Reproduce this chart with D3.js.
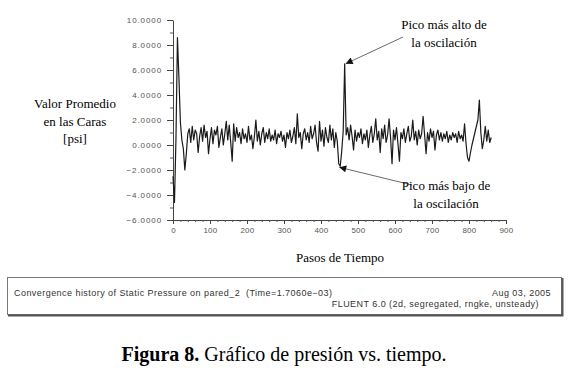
<!DOCTYPE html>
<html lang="es">
<head>
<meta charset="UTF-8">
<title>Gráfico de presión vs. tiempo</title>
<script src="https://cdn.jsdelivr.net/npm/d3@7"></script>
<style>
    body{
        margin: 0;
        background: #fff;
    }
    .tick text{
        font-family: "Liberation Sans", Arial, sans-serif;
        fill: #555;
    }
</style>
</head>
<body>
<svg id="main" width="568" height="375"></svg>
<script>

    const SERIF = '"Liberation Serif", "Times New Roman", "DejaVu Serif", serif';
    const SANS = '"Liberation Sans", Arial, sans-serif';

    // time step between two stored samples
    const stepSize = 4;

    // face averaged static pressure [psi], one value every 4 time steps (0 .. 860)
    const pressure = [
        -2.5, -4.6, 0.5, 8.6, 5.4, 1.8, 0.4, -0.3, -2.0, -0.7,
        0.9, 1.3, 0.2, 1.5, 0.4, 1.2, 0.9, -0.6, 0.7, 1.4,
        0.3, 1.6, 0.6, 1.1, -0.7, 0.5, 1.4, 0.1, 1.2, 0.8,
        1.5, -0.2, 0.6, 1.3, 0.0, 0.9, 1.9, 0.4, 1.6, 0.2,
        -1.3, 1.7, 0.3, 1.4, 0.6, 1.0, 0.1, 1.3, 0.5, 0.9,
        0.2, 1.5, 0.4, 0.8, -0.3, 0.7, 2.0, 0.3, 1.1, 0.0,
        0.9, 1.4, 0.2, 1.0, 0.5, 1.3, 0.3, 0.8, 0.4, 1.2,
        0.1, 0.9, 0.6, 1.1, 0.3, 0.8, -0.2, 1.0, 0.5, 1.2,
        0.2, 0.7, 1.4, 0.1, 2.5, 0.6, 1.0, -0.3, 0.9, 1.3,
        0.4, 1.0, 0.2, 1.5, 0.5, 0.9, 1.6, 0.2, -0.5, 1.9,
        0.3, 1.2, -0.1, 1.4, 0.6, 0.2, 1.6, 0.4, 1.3, -0.2,
        1.0, 0.3, -1.5, -1.7, -0.5, 1.1, 6.5, 0.8, 1.4, 0.4,
        1.6, 0.7, -0.4, 1.2, 0.3, 1.0, 0.6, 1.3, 0.1, 0.9,
        0.4, 1.2, -0.2, 0.8, 1.5, 0.2, 0.9, 2.1, 0.4, 1.1,
        -0.6, 1.3, 0.5, 1.6, 0.2, 0.8, 2.1, 0.6, -1.5, 1.2,
        0.4, 1.4, 0.1, -1.3, 1.0, 0.5, 1.3, 0.2, 0.9, 1.5,
        0.3, 0.7, 2.0, 0.4, 1.1, 0.0, 1.2, 0.5, 0.9, 2.3,
        0.8, -0.7, 1.0, 0.3, 1.3, 0.6, 1.1, -0.4, 0.8, 1.2,
        0.4, 1.0, 0.3, 0.9, 0.5, 1.1, 0.2, 0.8, 0.4, 1.0,
        0.6, 0.9, 0.2, 1.1, 0.5, 0.8, 0.3, 1.7, 0.1, -1.0,
        -1.3, -0.6, 0.0, 0.5, 1.0, 1.5, 2.0, 3.6, 1.0, -0.3,
        0.4, 1.5, 0.3, 1.2, 0.2, 0.6
    ];

    const xTicks = [0, 100, 200, 300, 400, 500, 600, 700, 800, 900];
    const yTicks = [-6, -4, -2, 0, 2, 4, 6, 8, 10];

    const yTitle = ["Valor Promedio", "en las Caras", "[psi]"];
    const xTitle = "Pasos de Tiempo";
    const highNote = ["Pico más alto de", "la oscilación"];
    const lowNote = ["Pico más bajo de", "la oscilación"];
    const footerLeft = "Convergence history of Static Pressure on pared_2  (Time=1.7060e\u221203)";
    const footerDate = "Aug 03, 2005";
    const footerSolver = "FLUENT 6.0 (2d, segregated, rngke, unsteady)";

    const data = pressure.map((v, i) => ({step: i * stepSize, value: v}));

    const svg = d3.select('svg#main');

    const x = d3.scaleLinear().domain([0, 900]).range([173, 506]);
    const y = d3.scaleLinear().domain([-6, 10]).range([220, 20]);

    // x axis: major ticks every 100, minor every 20
    svg.append('g')
        .attr('transform', 'translate(0,220)')
        .call(d3.axisBottom(x).tickValues(d3.range(0, 901, 20)).tickSize(2).tickFormat(''))
        .call(g => g.select('.domain').remove())
        .selectAll('line').attr('stroke', '#555');

    svg.append('g')
        .attr('transform', 'translate(0,220)')
        .call(d3.axisBottom(x).tickValues(xTicks).tickSize(4).tickSizeOuter(0).tickPadding(3))
        .call(g => g.select('.domain').attr('stroke', '#444'))
        .call(g => g.selectAll('line').attr('stroke', '#444'))
        .call(g => g.selectAll('text').attr('font-size', 8).attr('letter-spacing', 0.3));

    // y axis: major ticks every 2, minor every 1
    svg.append('g')
        .attr('transform', 'translate(173,0)')
        .call(d3.axisLeft(y).tickValues(d3.range(-6, 11, 1)).tickSize(3).tickFormat(''))
        .call(g => g.select('.domain').remove())
        .selectAll('line').attr('stroke', '#555');

    svg.append('g')
        .attr('transform', 'translate(173,0)')
        .call(d3.axisLeft(y).tickValues(yTicks).tickSize(6).tickSizeOuter(0).tickPadding(5)
            .tickFormat(d3.format('.4f')))
        .call(g => g.select('.domain').attr('stroke', '#444'))
        .call(g => g.selectAll('line').attr('stroke', '#444'))
        .call(g => g.selectAll('text').attr('font-size', 8).attr('letter-spacing', 0.9));

    // the pressure history
    const line = d3.line()
        .x(d => x(d.step))
        .y(d => y(d.value));

    svg.append('path')
        .datum(data)
        .attr('fill', 'none')
        .attr('stroke', '#1a1a1a')
        .attr('stroke-width', 1.2)
        .attr('stroke-linejoin', 'round')
        .attr('d', line);

    // axis titles
    svg.append('text')
        .attr('font-family', SERIF)
        .attr('text-anchor', 'middle')
        .attr('font-size', 13)
        .selectAll('tspan')
        .data(yTitle)
        .enter()
        .append('tspan')
        .attr('x', 75)
        .attr('y', (_, i) => 108 + i * 17.5)
        .text(d => d);

    svg.append('text')
        .attr('font-family', SERIF)
        .attr('x', 340)
        .attr('y', 262)
        .attr('text-anchor', 'middle')
        .attr('font-size', 13)
        .text(xTitle);

    // annotations for the highest and lowest peaks
    svg.append('defs').append('marker')
        .attr('id', 'head')
        .attr('viewBox', '0 0 10 10')
        .attr('refX', 10)
        .attr('refY', 5)
        .attr('markerWidth', 9)
        .attr('markerHeight', 7)
        .attr('markerUnits', 'userSpaceOnUse')
        .attr('orient', 'auto')
        .append('path')
        .attr('d', 'M0,0L10,5L0,10Z')
        .attr('fill', '#111');

    const hi = data.reduce((a, b) => b.step > 400 && b.value > a.value ? b : a, {value: -99});
    const lo = data.filter(d => d.step > 400 && d.step < 500)
        .reduce((a, b) => b.value < a.value ? b : a);

    const notes = [
        {lines: highNote, tx: 444, ty: 29, from: [403, 37], to: [x(hi.step) + 1, y(hi.value)]},
        {lines: lowNote, tx: 446, ty: 190, from: [412, 185], to: [x(lo.step) - 1, y(lo.value) + 1]}
    ];

    notes.forEach(n => {
        svg.append('line')
            .attr('x1', n.from[0]).attr('y1', n.from[1])
            .attr('x2', n.to[0]).attr('y2', n.to[1])
            .attr('stroke', '#444')
            .attr('stroke-width', 0.8)
            .attr('marker-end', 'url(#head)');

        svg.append('text')
            .attr('font-family', SERIF)
            .attr('text-anchor', 'middle')
            .attr('font-size', 13)
            .selectAll('tspan')
            .data(n.lines)
            .enter()
            .append('tspan')
            .attr('x', n.tx)
            .attr('y', (_, i) => n.ty + i * 18)
            .text(d => d);
    });

    // solver footer box
    const footer = svg.append('g');
    footer.append('rect')
        .attr('x', 7.5).attr('y', 277.5)
        .attr('width', 554).attr('height', 37)
        .attr('fill', 'none')
        .attr('stroke', '#777')
        .attr('stroke-width', 1);
    footer.append('path')
        .attr('d', 'M8,315.5H562.5V278')
        .attr('fill', 'none')
        .attr('stroke', '#555')
        .attr('stroke-width', 2);

    footer.append('text')
        .attr('font-family', SANS)
        .attr('x', 14).attr('y', 296)
        .attr('font-size', 9)
        .attr('letter-spacing', 0.45)
        .attr('fill', '#333')
        .style('white-space', 'pre')
        .text(footerLeft);
    footer.append('text')
        .attr('font-family', SANS)
        .attr('x', 551).attr('y', 296)
        .attr('text-anchor', 'end')
        .attr('font-size', 9)
        .attr('letter-spacing', 0.45)
        .attr('fill', '#333')
        .text(footerDate);
    footer.append('text')
        .attr('font-family', SANS)
        .attr('x', 539).attr('y', 307)
        .attr('text-anchor', 'end')
        .attr('font-size', 9)
        .attr('letter-spacing', 0.45)
        .attr('fill', '#333')
        .text(footerSolver);

    // figure caption
    const caption = svg.append('text')
        .attr('font-family', SERIF)
        .attr('x', 284)
        .attr('y', 361)
        .attr('text-anchor', 'middle')
        .attr('font-size', 20);
    caption.append('tspan').attr('font-weight', 'bold').text('Figura 8.');
    caption.append('tspan').text(' Gráfico de presión vs. tiempo.');

</script>
</body>
</html>
